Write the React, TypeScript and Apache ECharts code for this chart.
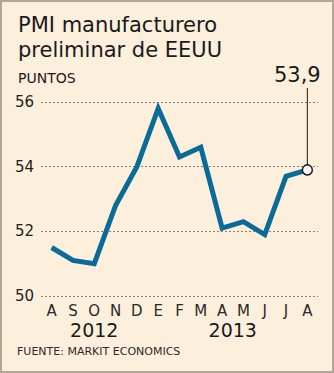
import React, { useEffect, useRef } from "react";
import * as echarts from "echarts";

const months = ["A", "S", "O", "N", "D", "E", "F", "M", "A", "M", "J", "J", "A"];
const pmi = [51.5, 51.1, 51.0, 52.8, 54.0, 55.8, 54.3, 54.6, 52.1, 52.3, 51.9, 53.7, 53.9];
const yearLabels = ["2012", "2013"];
const lastLabel = "53,9";

const FONT = "DejaVu Sans";

export default function App() {
  const ref = useRef<HTMLDivElement>(null);
  useEffect(() => {
    const chart = echarts.init(ref.current!, null, { renderer: "svg" });
    chart.setOption({
      animation: false,
      backgroundColor: "#fcefdc",
      grid: { left: 41, right: 16, top: 102, bottom: 77 },
      xAxis: {
        type: "category",
        data: months,
        boundaryGap: true,
        axisLine: { show: false },
        axisTick: { show: false },
        axisLabel: { color: "#2a2a2a", fontSize: 15, fontFamily: FONT, margin: 7 },
      },
      yAxis: {
        type: "value",
        min: 50,
        max: 56,
        interval: 2,
        axisLine: { show: false },
        axisTick: { show: false },
        axisLabel: { color: "#1e1e1e", fontSize: 15, fontFamily: FONT, margin: 7 },
        splitLine: { lineStyle: { color: "#8a7f72", type: [2, 2], width: 1 } },
      },
      series: [
        {
          type: "line",
          data: pmi,
          lineStyle: { color: "#0b6b98", width: 5, join: "miter" },
          itemStyle: { color: "#0b6b98" },
          symbol: "none",
          z: 2,
        },
      ],
    });
    const last = pmi.length - 1;
    const toPx = (i: number, v: number) => chart.convertToPixel({ gridIndex: 0 }, [i, v]) as number[];
    const [px, py] = toPx(last, pmi[last]);
    const [x2012] = toPx(2, 50);
    const [xA] = toPx(8, 50);
    const [xM] = toPx(9, 50);
    chart.setOption({
      graphic: [
        { type: "rect", shape: { x: 1, y: 1, width: 332, height: 371 }, style: { fill: "none", stroke: "#b3a597", lineWidth: 2 }, z: 10 },
        { type: "text", x: 18, y: 14, style: { text: "PMI manufacturero", font: `21px "${FONT}"`, fill: "#1a1a1a" } },
        { type: "text", x: 18, y: 39, style: { text: "preliminar de EEUU", font: `21px "${FONT}"`, fill: "#1a1a1a" } },
        { type: "text", x: 18, y: 71, style: { text: "PUNTOS", font: `14px "${FONT}"`, fill: "#1a1a1a" } },
        { type: "text", x: x2012, y: 330, style: { text: yearLabels[0], font: `19px "${FONT}"`, fill: "#1a1a1a", align: "center", verticalAlign: "middle" } },
        { type: "text", x: (xA + xM) / 2, y: 330, style: { text: yearLabels[1], font: `19px "${FONT}"`, fill: "#1a1a1a", align: "center", verticalAlign: "middle" } },
        { type: "text", x: 17, y: 346, style: { text: "FUENTE: MARKIT ECONOMICS", font: `11px "${FONT}"`, fill: "#2a2a2a" } },
        { type: "text", x: px - 10, y: 85, style: { text: lastLabel, font: `21px "${FONT}"`, fill: "#1a1a1a", align: "center", verticalAlign: "bottom" } },
        { type: "line", shape: { x1: px, y1: 88, x2: px, y2: py - 5 }, style: { stroke: "#1a1a1a", lineWidth: 1 }, z: 5 },
        { type: "circle", shape: { cx: px, cy: py, r: 5 }, style: { fill: "#ffffff", stroke: "#1a1a1a", lineWidth: 1.5 }, z: 6 },
      ],
    });
    return () => chart.dispose();
  }, []);
  return <div ref={ref} style={{ position: "fixed", left: 0, top: 0, width: 334, height: 373 }} />;
}
